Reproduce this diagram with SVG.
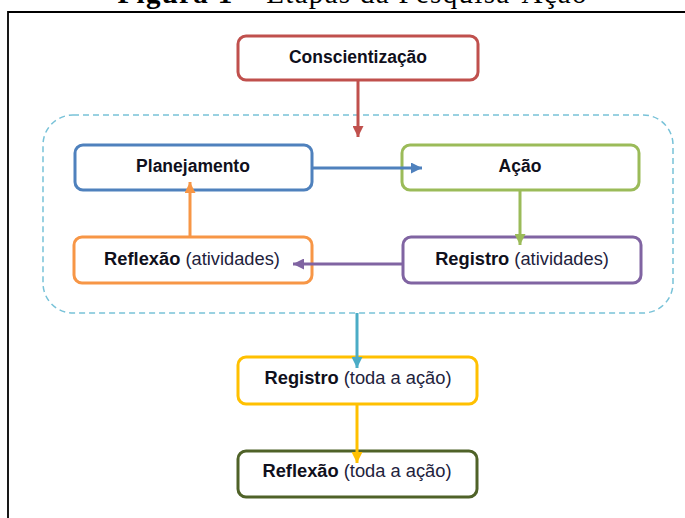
<svg xmlns="http://www.w3.org/2000/svg" width="685" height="518" viewBox="0 0 685 518">
<style>
.box{fill:#fff;stroke-width:3}
.t{font-family:"Liberation Sans",Arial,sans-serif;font-size:17.5px;fill:#10101c;text-anchor:middle}
.m{font-size:18.3px}
.b{font-weight:bold}
.r{font-weight:normal;fill:#22223c}
.c{fill:none;stroke-width:3}
</style>
<defs>
<marker id="aRed" viewBox="0 0 10 10" refX="10" refY="5" markerWidth="11" markerHeight="11" markerUnits="userSpaceOnUse" orient="auto"><path d="M0,0L10,5L0,10z" fill="#C0504D"/></marker>
<marker id="aBlue" viewBox="0 0 10 10" refX="10" refY="5" markerWidth="11" markerHeight="11" markerUnits="userSpaceOnUse" orient="auto"><path d="M0,0L10,5L0,10z" fill="#4F81BD"/></marker>
<marker id="aGreen" viewBox="0 0 10 10" refX="10" refY="5" markerWidth="11" markerHeight="11" markerUnits="userSpaceOnUse" orient="auto"><path d="M0,0L10,5L0,10z" fill="#9BBB59"/></marker>
<marker id="aPurple" viewBox="0 0 10 10" refX="10" refY="5" markerWidth="11" markerHeight="11" markerUnits="userSpaceOnUse" orient="auto"><path d="M0,0L10,5L0,10z" fill="#8064A2"/></marker>
<marker id="aOrange" viewBox="0 0 10 10" refX="10" refY="5" markerWidth="11" markerHeight="11" markerUnits="userSpaceOnUse" orient="auto"><path d="M0,0L10,5L0,10z" fill="#F79646"/></marker>
<marker id="aCyan" viewBox="0 0 10 10" refX="10" refY="5" markerWidth="11" markerHeight="11" markerUnits="userSpaceOnUse" orient="auto"><path d="M0,0L10,5L0,10z" fill="#4BACC6"/></marker>
<marker id="aYellow" viewBox="0 0 10 10" refX="10" refY="5" markerWidth="11" markerHeight="11" markerUnits="userSpaceOnUse" orient="auto"><path d="M0,0L10,5L0,10z" fill="#FFC000"/></marker>
</defs>
<rect width="685" height="518" fill="#fff"/>
<g id="title">
<text x="352" y="3" font-family="'Liberation Serif','Times New Roman',serif" font-size="29" fill="#000" text-anchor="middle" textLength="469" lengthAdjust="spacing"><tspan font-weight="bold">Figura 1</tspan> – Etapas da Pesquisa-Ação</text>
</g>
<g id="frame">
<path d="M8,518V12H685" fill="none" stroke="#000" stroke-width="1.8"/>
</g>
<g id="ciclo">
<rect x="43" y="115" width="630" height="198" rx="30" fill="none" stroke="#78C2D8" stroke-width="1.5" stroke-dasharray="6,4"/>
</g>
<g id="conscientizacao">
<rect class="box" x="238" y="36" width="240" height="44" rx="8" stroke="#C0504D"/>
<text class="t b" x="358" y="63">Conscientização</text>
</g>
<g id="planejamento">
<rect class="box" x="75" y="145" width="237" height="45" rx="8" stroke="#4F81BD"/>
<text class="t b" x="193" y="172">Planejamento</text>
</g>
<g id="acao">
<rect class="box" x="402" y="145" width="237" height="45" rx="8" stroke="#9BBB59"/>
<text class="t b" x="520" y="172">Ação</text>
</g>
<g id="registro-atividades">
<rect class="box" x="403" y="237" width="238" height="46" rx="8" stroke="#8064A2"/>
<text class="t m" x="522" y="265"><tspan class="b">Registro</tspan><tspan class="r"> (atividades)</tspan></text>
</g>
<g id="reflexao-atividades">
<rect class="box" x="74" y="237" width="238" height="46" rx="8" stroke="#F79646"/>
<text class="t m" x="192" y="265"><tspan class="b">Reflexão</tspan><tspan class="r"> (atividades)</tspan></text>
</g>
<g id="registro-toda">
<rect class="box" x="238" y="357" width="239" height="47" rx="8" stroke="#FFC000"/>
<text class="t m" x="358" y="384"><tspan class="b">Registro</tspan><tspan class="r"> (toda a ação)</tspan></text>
</g>
<g id="reflexao-toda">
<rect class="box" x="238" y="451" width="239" height="46" rx="8" stroke="#4F6228"/>
<text class="t m" x="357" y="477"><tspan class="b">Reflexão</tspan><tspan class="r"> (toda a ação)</tspan></text>
</g>
<g id="connectors">
<line class="c" x1="358" y1="80" x2="358" y2="137" stroke="#C0504D" marker-end="url(#aRed)"/>
<line class="c" x1="312" y1="168" x2="422" y2="168" stroke="#4F81BD" marker-end="url(#aBlue)"/>
<line class="c" x1="520" y1="190" x2="520" y2="245" stroke="#9BBB59" marker-end="url(#aGreen)"/>
<line class="c" x1="403" y1="264" x2="293" y2="264" stroke="#8064A2" marker-end="url(#aPurple)"/>
<line class="c" x1="190" y1="237" x2="190" y2="182" stroke="#F79646" marker-end="url(#aOrange)"/>
<line class="c" x1="357" y1="313" x2="357" y2="368" stroke="#4BACC6" marker-end="url(#aCyan)"/>
<line class="c" x1="357" y1="404" x2="357" y2="463" stroke="#FFC000" marker-end="url(#aYellow)"/>
</g>
</svg>
